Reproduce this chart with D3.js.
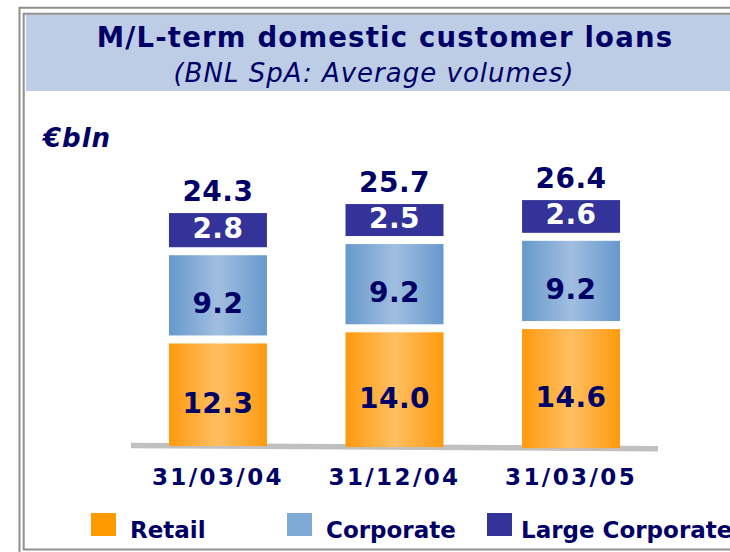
<!DOCTYPE html>
<html>
<head>
<meta charset="utf-8">
<script src="https://cdnjs.cloudflare.com/ajax/libs/d3/7.8.5/d3.min.js"></script>
<style>
  body { margin: 0; background: #fff; }
  text { font-family: "DejaVu Sans", Verdana, sans-serif; }
</style>
</head>
<body>
<div id="chart"></div>
<script>

// chart data
var categories = ["31/03/04", "31/12/04", "31/03/05"];
var retail = [12.3, 14.0, 14.6];
var corporate = [9.2, 9.2, 9.2];
var largeCorporate = [2.8, 2.5, 2.6];
var totals = [24.3, 25.7, 26.4];
var seriesNames = ["Retail", "Corporate", "Large Corporate"];

var width = 730, height = 552;
var navy = "#000066";

var svg = d3.select("#chart").append("svg")
	.attr("width", width)
	.attr("height", height);

var defs = svg.append("defs");

function addGradient(id, edge, mid) {
	var g = defs.append("linearGradient")
		.attr("id", id)
		.attr("x1", "0%").attr("x2", "100%")
		.attr("y1", "0%").attr("y2", "0%");
	g.append("stop").attr("offset", "0%").attr("stop-color", edge);
	g.append("stop").attr("offset", "50%").attr("stop-color", mid);
	g.append("stop").attr("offset", "100%").attr("stop-color", edge);
}
addGradient("gRetail", "#FF9A0E", "#FFBF62");
addGradient("gCorp", "#6799CC", "#A1BEE0");

var fills = ["url(#gRetail)", "url(#gCorp)", "#333399"];
var legendColors = ["#FF9900", "#7FAAD6", "#333399"];

// frame and title band
svg.append("rect")
	.attr("x", 26).attr("y", 15)
	.attr("width", width - 26).attr("height", 76)
	.attr("fill", "#BDCDE5");

svg.append("path")
	.attr("d", "M19.5,552 V7.7 H730")
	.attr("fill", "none")
	.attr("stroke", "#8f8f8f")
	.attr("stroke-width", 2);

svg.append("path")
	.attr("d", "M730,13.7 H23.7 V549.5 H730")
	.attr("fill", "none")
	.attr("stroke", "#8f8f8f")
	.attr("stroke-width", 2);

svg.append("text")
	.attr("x", 385).attr("y", 46.5)
	.attr("text-anchor", "middle")
	.attr("font-size", 27.5)
	.attr("font-weight", "bold")
	.attr("letter-spacing", 1.2)
	.attr("fill", navy)
	.text("M/L-term domestic customer loans");

svg.append("text")
	.attr("x", 374).attr("y", 82)
	.attr("text-anchor", "middle")
	.attr("font-size", 26)
	.attr("font-style", "italic")
	.attr("letter-spacing", 1)
	.attr("fill", navy)
	.text("(BNL SpA: Average volumes)");

svg.append("text")
	.attr("x", 43).attr("y", 147)
	.attr("font-size", 26)
	.attr("font-weight", "bold")
	.attr("font-style", "italic")
	.attr("letter-spacing", 1)
	.attr("fill", navy)
	.text("€bln");

// scales
var x = d3.scaleBand()
	.domain(categories)
	.range([131, 658])
	.paddingInner(0.445)
	.paddingOuter(0.215);

// segment heights (the original is not drawn to a zero-based scale)
var h = d3.scaleLinear()
	.domain([0, 15])
	.range([14, 122]);

// slanted floor line
var floor = d3.scaleLinear()
	.domain(x.range())
	.range([445.5, 448.7]);

var gap = 8;

svg.append("line")
	.attr("x1", x.range()[0]).attr("y1", floor(x.range()[0]))
	.attr("x2", x.range()[1]).attr("y2", floor(x.range()[1]))
	.attr("stroke", "#C0C0C0")
	.attr("stroke-width", 5.5);

var series = [retail, corporate, largeCorporate];

categories.forEach(function(cat, i) {
	var cx = x(cat) + x.bandwidth() / 2;
	var y = floor(cx);
	var g = svg.append("g").attr("class", "stack");

	series.forEach(function(values, s) {
		var v = values[i];
		var hh = h(v);
		var top = y - hh;
		g.append("rect")
			.attr("class", "bar")
			.attr("x", x(cat))
			.attr("y", top)
			.attr("width", x.bandwidth())
			.attr("height", hh)
			.attr("fill", fills[s]);

		g.append("text")
			.attr("x", cx)
			.attr("y", top + hh / 2 + (s === 2 ? 8 : 18))
			.attr("text-anchor", "middle")
			.attr("font-size", 28)
			.attr("font-weight", "bold")
			.attr("letter-spacing", 0.5)
			.attr("fill", s === 2 ? "#fff" : navy)
			.text(v.toFixed(1));

		y = top - gap;
	});

	// total above stack
	g.append("text")
		.attr("x", cx)
		.attr("y", y + gap - 12)
		.attr("text-anchor", "middle")
		.attr("font-size", 28)
		.attr("font-weight", "bold")
		.attr("letter-spacing", 0.5)
		.attr("fill", navy)
		.text(totals[i].toFixed(1));

	// category label
	g.append("text")
		.attr("x", cx)
		.attr("y", 485)
		.attr("text-anchor", "middle")
		.attr("font-size", 23)
		.attr("font-weight", "bold")
		.attr("letter-spacing", 2.4)
		.attr("fill", navy)
		.text(cat);
});

// legend
var legendX = [91, 287, 487];
var legend = svg.selectAll(".legend")
	.data(seriesNames)
	.enter()
	.append("g")
	.attr("class", "legend")
	.attr("transform", function(d, i) { return "translate(" + legendX[i] + ",513)"; });

legend.append("rect")
	.attr("width", 25)
	.attr("height", 23)
	.attr("fill", function(d, i) { return legendColors[i]; });

legend.append("text")
	.attr("x", function(d, i) { return i === 2 ? 34 : 39; })
	.attr("y", 24.5)
	.attr("font-size", 23)
	.attr("font-weight", "bold")
	.attr("fill", navy)
	.text(function(d) { return d; });

</script>
</body>
</html>
